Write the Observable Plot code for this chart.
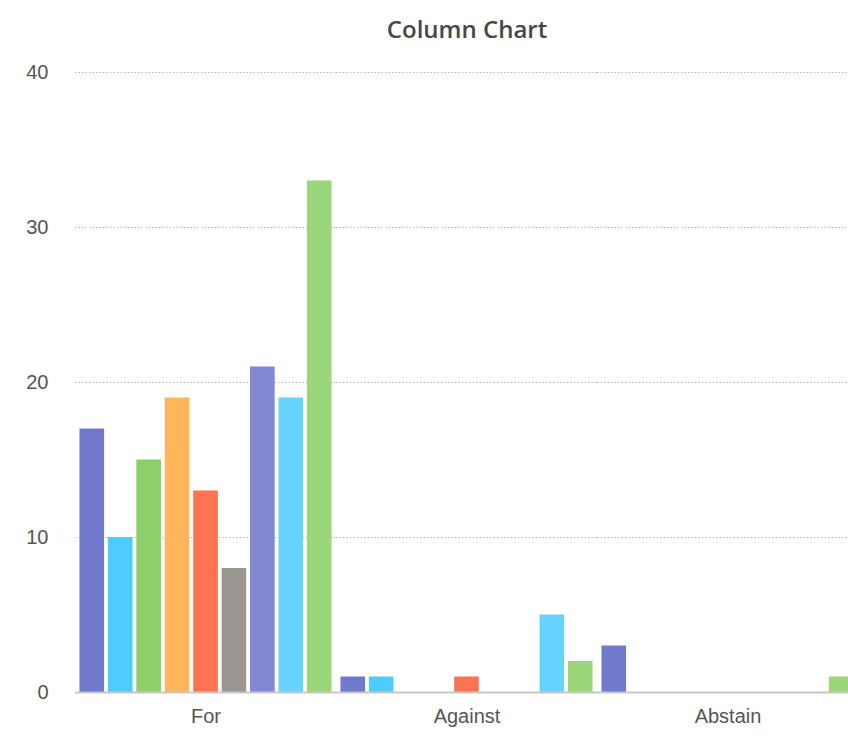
<!DOCTYPE html>
<html>
<head>
<meta charset="utf-8">
<script src="https://cdn.jsdelivr.net/npm/d3@7"></script>
<script src="https://cdn.jsdelivr.net/npm/@observablehq/plot@0.6"></script>
<style>
  html, body { margin: 0; padding: 0; background: #fff; overflow: hidden; }
  #wrap { position: relative; width: 860px; }
  #title { position: absolute; left: 75px; width: 784px; top: 13px; text-align: center;
           font-family: "Open Sans", "Liberation Sans", sans-serif; font-weight: 600; font-size: 24px; color: #474747; line-height: 32px; }
  #chart { padding-top: 55px; }
  #chart svg { overflow: hidden; }
</style>
</head>
<body>
<div id="wrap">
  <div id="title">Column Chart</div>
  <div id="chart"></div>
</div>
<script>
const groups = ["For", "Against", "Abstain"];
const series = ["S1", "S2", "S3", "S4", "S5", "S6", "S7", "S8", "S9"];
const forValues = [17, 10, 15, 19, 13, 8, 21, 19, 33];
const againstValues = [1, 1, 0, 0, 1, 0, 0, 5, 2];
const abstainValues = [3, 0, 0, 0, 0, 0, 0, 0, 1];
const colors = ["#7079CC", "#4DCDFE", "#8ECF68", "#FFB55B", "#FF7353", "#9A9792", "#8188D4", "#66D4FF", "#9BD67B"];
const yTicks = [0, 10, 20, 30, 40];

const valuesByGroup = [forValues, againstValues, abstainValues];
const data = groups.flatMap((g, gi) =>
  series.map((s, si) => ({ group: g, series: s, value: valuesByGroup[gi][si] }))
);

const chart = Plot.plot({
  width: 860,
  height: 683,
  marginLeft: 75,
  marginRight: 2,
  marginTop: 17,
  marginBottom: 46,
  style: { fontFamily: "'Liberation Sans', Arial, sans-serif", fontSize: "20px", color: "#555", background: "#fff" },
  fx: { domain: groups, padding: 0, round: false, label: null, axis: "bottom", tickSize: 0, tickPadding: 16, fontSize: "21px" },
  x: { domain: series, axis: null, round: false, paddingInner: 0.134, paddingOuter: 0.157 },
  y: { domain: [0, 40], ticks: yTicks, label: null, tickSize: 0, tickPadding: 27 },
  color: { domain: series, range: colors },
  marks: [
    Plot.ruleY(yTicks.filter(d => d > 0), { stroke: "#b5b5b5", strokeWidth: 1, strokeDasharray: "1.5,2" }),
    Plot.barY(data, { fx: "group", x: "series", y: "value", fill: "series" }),
    Plot.ruleY([0], { stroke: "#c8c8c8", strokeWidth: 2 })
  ]
});
document.getElementById("chart").appendChild(chart);
</script>
</body>
</html>
